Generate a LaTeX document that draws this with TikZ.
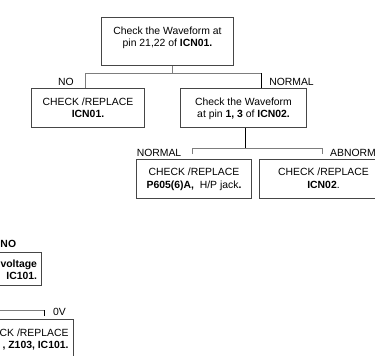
\documentclass[tikz,border=0pt]{standalone}
\usepackage{fontspec}
\setmainfont{Liberation Sans}
\definecolor{boxc}{RGB}{70,70,70}
\definecolor{linec}{RGB}{125,125,125}
\newcommand\fs{\fontsize{10.4bp}{12.3bp}\selectfont}
% centred box text: width, height, first baseline from top, content
\newcommand\bxt[4]{\parbox[c][#2][t]{#1}{\fs\centering\vspace*{\dimexpr#3-8bp\relax}\rule{0pt}{8bp}#4\par}}
% right-aligned box text (box clipped on the left)
\newcommand\bxr[4]{\parbox[c][#2][t]{#1}{\fs\raggedleft\rightskip 4.5bp\relax\vspace*{\dimexpr#3-8bp\relax}\rule{0pt}{8bp}#4\par}}
\tikzset{
  bx/.style={draw=boxc, line width=1bp, inner sep=0pt, anchor=north west, rectangle},
  conn/.style={draw=linec, line width=1bp},
  connk/.style={draw=black, line width=1bp},
  lbl/.style={inner sep=0pt, anchor=base, font=\fs},
}
\begin{document}
\begin{tikzpicture}[x=1bp,y=-1bp]
\clip (0,0) rectangle (375,356);
% boxes
\node[bx] (A) at (101,17) {\bxt{132bp}{48bp}{17bp}{Check the Waveform at\\pin 21,22 of \textbf{ICN01.}}};
\node[bx] (B) at (31,88) {\bxt{113bp}{39bp}{16.7bp}{CHECK /REPLACE\\\textbf{ICN01.}}};
\node[bx] (R) at (180,88) {\bxt{126bp}{39bp}{16.7bp}{Check the Waveform\\at pin \textbf{1, 3} of \textbf{ICN02.}}};
\node[bx] (C) at (136,158.5) {\bxt{115bp}{39bp}{16.7bp}{CHECK /REPLACE\\\textbf{P605(6)A,}\ \ H/P jack\textbf{.}}};
\node[bx] (D) at (259,158.5) {\bxt{128bp}{39bp}{16.7bp}{CHECK /REPLACE\\\textbf{ICN02}.}};
\node[bx] (E) at (-60,252) {\bxr{101bp}{33bp}{14.5bp}{\textbf{voltage}\\\textbf{IC101.}}};
\node[bx] (F) at (-60,319) {\bxr{132.5bp}{50bp}{17bp}{CK /REPLACE\\\textbf{, Z103, IC101.}}};
% labels
\node[lbl] (noA) at (66,85.6) {NO};
\node[lbl] (nrA) at (291.5,85.6) {NORMAL};
\node[lbl] (nrC) at (159,156.3) {NORMAL};
\node[lbl, anchor=base west] (abD) at (330,156.3) {ABNORM};
\node[lbl, anchor=base west, font=\fs\bfseries] (noE) at (0.3,247.6) {NO};
\node[lbl, anchor=base west] (zv) at (53,315.6) {0V};
% connectors, top split
\coordinate (j1) at (172.5,73);
\coordinate (bl) at (85,73);
\coordinate (br) at (261,73);
\draw[conn] (A.south -| j1) -- (j1);
\draw[conn] (bl |- B.north) -- (bl) -- (br);
\draw[connk] (br) -- (br |- R.north);
% middle split
\coordinate (j2) at (245.5,148.5);
\coordinate (cl) at (192,148.5);
\coordinate (cr) at (322.7,148.5);
\coordinate (cl2) at (192,154);
\coordinate (cr2) at (322.7,154);
\draw[connk] (R.south -| j2) -- (j2);
\draw[conn] (cl2) -- (cl) -- (cr) -- (cr2);
% bottom-left split
\coordinate (el) at (-5,310);
\coordinate (er) at (44,310);
\coordinate (er2) at (44,316);
\draw[conn] (el) -- (er);
\draw[connk] (er) -- (er2);
\end{tikzpicture}
\end{document}
